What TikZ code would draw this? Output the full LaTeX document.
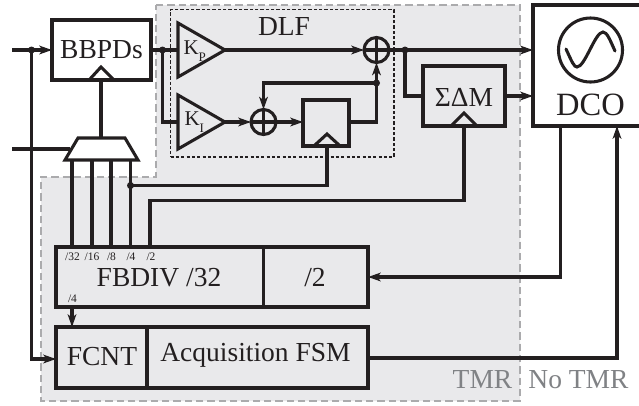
\documentclass[tikz,border=0pt]{standalone}
\usepackage{fontspec}
\setmainfont{Liberation Serif}
\usetikzlibrary{arrows.meta}
\newdimen\px \px=.75pt
\definecolor{ink}{HTML}{231F20}
\definecolor{region}{HTML}{E9E9EB}
\definecolor{regionline}{HTML}{ABABAD}
\definecolor{tmrtext}{HTML}{808285}
\newcommand{\fnt}[1]{\fontsize{#1\px}{#1\px}\selectfont}
\tikzset{
  wire/.style={line width=2.3pt,draw=ink,line join=miter},
  arr/.style={wire,-{Stealth[length=9.5pt,width=6.5pt,inset=2.5pt]}},
  blockbox/.style={draw=ink,line width=2.3pt,inner sep=0pt,outer sep=0pt,text=ink,font=\fnt{27.5}},
  txt/.style={inner sep=0pt,outer sep=0pt,text=ink,font=\fnt{27.5}},
  tiny/.style={inner sep=0pt,outer sep=0pt,text=ink,font=\fnt{11.5}},
  sumnode/.style={circle,draw=ink,line width=2.3pt,minimum size=25\px,inner sep=0pt,outer sep=0pt},
  dotnode/.style={circle,fill=ink,minimum size=7\px,inner sep=0pt,outer sep=0pt},
  tmr/.style={inner sep=0pt,outer sep=0pt,text=tmrtext,font=\fnt{27.5}},
}
\newcommand{\gain}[2]{K\raisebox{-.32em}{\fnt{13}#2}}
\begin{document}
\begin{tikzpicture}[x=.75pt,y=-.75pt]
\clip (0,0) rectangle (639,405);
\fill[white] (0,0) rectangle (639,405);
% regions
\draw[fill=region,draw=regionline,line width=1.1pt,dash pattern=on 5.5pt off 3pt]
  (156,5) -- (520,5) -- (520,401) -- (41,401) -- (41,177) -- (156,177) -- cycle;
\node[draw=ink,line width=.9pt,dash pattern=on 2.4pt off 1.6pt,minimum width=223.5\px,minimum height=147.5\px,inner sep=0pt,outer sep=0pt] (dlf) at (282.25,83.25) {};
% blocks
\node[blockbox,minimum width=99\px,minimum height=60\px] (pd) at (101.5,50) {BBPDs};
\node[blockbox,minimum width=46\px,minimum height=46\px] (ff) at (326,123) {};
\node[blockbox,minimum width=82\px,minimum height=60\px] (sdm) at (464,96) {};
\node[txt] (sdmt) at (464,97) {ΣΔM};
\node[blockbox,minimum width=120\px,minimum height=121\px] (dco) at (593,65.5) {};
\node[txt,font=\fnt{32.5}] (dcot) at (590.5,105) {DCO};
\node[blockbox,minimum width=207.5\px,minimum height=60\px] (fb) at (159.75,277) {};
\node[blockbox,minimum width=104.5\px,minimum height=60\px] (div) at (315.75,277) {};
\node[blockbox,minimum width=91\px,minimum height=61\px] (fcnt) at (101.5,357.5) {};
\node[blockbox,minimum width=221\px,minimum height=61\px] (fsm) at (257.5,357.5) {};
\node[txt] (fbt) at (159,278) {FBDIV /32};
\node[txt] (divt) at (315,278) {/2};
\node[txt] (fcntt) at (102,357) {FCNT};
\node[txt] (fsmt) at (255.5,355.5) {Acquisition FSM};
\node[txt] (dlft) at (284,27) {DLF};
\node[tmr] (tmrt) at (482.5,379.5) {TMR};
\node[tmr] (ntmr) at (578.5,379.5) {No TMR};
% tiny labels
\node[tiny] (l32) at (72.5,256.5) {/32};
\node[tiny] (l16) at (92,256.5) {/16};
\node[tiny] (l8) at (111.5,256.5) {/8};
\node[tiny] (l4) at (131,256.5) {/4};
\node[tiny] (l2) at (151,256.5) {/2};
\node[tiny] (l4b) at (72.5,298.5) {/4};
% sums and dots
\node[sumnode] (s1) at (376.5,50) {};
\node[sumnode] (s2) at (263.5,122) {};
\draw[wire] (s1.north) -- (s1.south) (s1.west) -- (s1.east);
\draw[wire] (s2.north) -- (s2.south) (s2.west) -- (s2.east);
% gain triangles
\coordinate (kpi) at (178,50); \coordinate (kpo) at (225,50);
\coordinate (kii) at (178,122); \coordinate (kio) at (225,122);
\draw[wire] (178,23) -- (kpo) -- (178,77) -- cycle;
\draw[wire] (178,95) -- (kio) -- (178,149) -- cycle;
\node[txt,font=\fnt{21},anchor=west] (kpt) at (183.5,51) {\gain{}{P}};
\node[txt,font=\fnt{21},anchor=west] (kit) at (184.5,122) {\gain{}{I}};
% mux
\coordinate (muxtop) at (101,138); \coordinate (muxl) at (70,149);
\draw[wire] (78,138) -- (125,138) -- (138,160) -- (65,160) -- cycle;
% clock triangles
\draw[wire] (90,79) -- (101,67) -- (113,79);
\draw[wire] (315,145) -- (327,134) -- (339,145);
\draw[wire] (452,125) -- (464,113) -- (476,125);
% connectors
\coordinate (inA) at (12,50); \coordinate (inB) at (12,149);
\node[dotnode] (d1) at (31.5,50) {};
\node[dotnode] (d2) at (162.5,50) {};
\node[dotnode] (d3) at (405,50) {};
\node[dotnode] (d4) at (376.5,83) {};
\node[dotnode] (d5) at (130.5,185.5) {};
\draw[arr] (inA) -- (pd.west);
\draw[wire] (inB) -- (muxl);
\draw[arr] (d1.center) -- (31.5,359) -- (fcnt.west |- 0,359);
\draw[wire] (pd.south -| muxtop) -- (muxtop);
\draw[wire] (pd.east) -- (kpi);
\draw[wire] (d2.center) -- (d2.center |- kii) -- (kii);
\draw[arr] (kpo) -- (s1.west);
\draw[arr] (kio) -- (s2.west);
\draw[arr] (s2.east) -- (ff.west |- s2.east);
\draw[wire] (ff.east |- s2.east) -- (376.5,122) -- (d4.center);
\draw[arr] (d4.center) -- (s1.south);
\draw[arr] (d4.center) -- (s2.north |- d4.center) -- (s2.north);
\draw[arr] (s1.east) -- (dco.west |- s1.east);
\draw[wire] (d3.center) -- (405,96) -- (sdm.west);
\draw[arr] (sdm.east) -- (dco.west |- sdm.east);
% mux to divider
\draw[wire] (72,160) -- (72,247);
\draw[wire] (92,160) -- (92,247);
\draw[wire] (111,160) -- (111,247);
\draw[wire] (130.5,160) -- (130.5,247);
\draw[wire] (d5.center) -- (327,185.5) -- (327,146);
\draw[wire] (150,247) -- (150,200.5) -- (464,200.5) -- (464,126);
% feedback
\draw[arr] (560.5,126) -- (560.5,277) -- (div.east);
\draw[arr] (fb.south -| 72,0) -- (fcnt.north -| 72,0);
\draw[arr] (fsm.east |- 0,358) -- (617,358) -- (617,126);
% sine
\node[circle,draw=ink,line width=2.3pt,minimum size=64\px,inner sep=0pt,outer sep=0pt] (osc) at (590.5,50) {};
\draw[wire,line cap=round] (566,49) .. controls (572,62) and (574,67) .. (577,67) .. controls (585,67) and (595,32) .. (603,32) .. controls (607,32) and (610,40) .. (615,51);
\end{tikzpicture}
\end{document}
